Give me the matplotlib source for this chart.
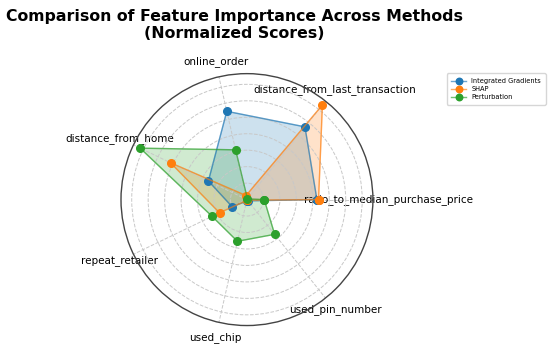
import numpy as np
import matplotlib
matplotlib.use("Agg")
import matplotlib.pyplot as plt
from matplotlib.colors import to_rgba

features = ["ratio_to_median_purchase_price", "distance_from_last_transaction",
            "online_order", "distance_from_home", "repeat_retailer",
            "used_chip", "used_pin_number"]
methods = ["Integrated Gradients", "SHAP", "Perturbation"]
ig_scores = [0.85, 1.13, 1.10, 0.52, 0.20, 0.02, 0.02]
shap_scores = [0.87, 1.47, 0.05, 1.03, 0.37, 0.01, 0.01]
pert_scores = [0.21, 0.01, 0.62, 1.44, 0.47, 0.52, 0.54]
colors = ["#1f77b4", "#ff7f0e", "#2ca02c"]

n = len(features)
angles = np.linspace(0, 2 * np.pi, n, endpoint=False).tolist()
angles_closed = angles + angles[:1]

fig = plt.figure(figsize=(5.5, 3.52), dpi=100)
ax = fig.add_axes([0.22, 0.075, 0.458, 0.716], polar=True)

for name, vals, c in zip(methods, [ig_scores, shap_scores, pert_scores], colors):
    v = vals + vals[:1]
    ax.plot(angles_closed, v, 'o-', color=to_rgba(c, 0.65), linewidth=1.0,
            markersize=5.5, markerfacecolor=c, markeredgecolor=c, label=name)
    ax.fill(angles_closed, v, color=c, alpha=0.22)

ax.set_xticks(angles)
ax.set_xticklabels(features, fontsize=7.5)
ax.tick_params(axis='x', pad=0.5)
ax.set_ylim(0, 1.53)
ax.set_yticks(np.arange(0.2, 1.41, 0.2))
ax.set_yticklabels([])
ax.grid(True, color='#c8c8c8', linestyle='--', linewidth=0.7)
ax.spines['polar'].set_color('#444444')
ax.spines['polar'].set_linewidth(1.0)

fig.text(234 / 550, 1 - 9 / 352,
         "Comparison of Feature Importance Across Methods\n(Normalized Scores)",
         ha='center', va='top', fontsize=11.3, fontweight='bold', linespacing=1.2)

fig.legend(loc='upper right', bbox_to_anchor=(549 / 550, 1 - 70 / 352),
           fontsize=4.8, frameon=True, markerscale=0.85, handlelength=2.2,
           borderpad=0.7, labelspacing=0.3)

fig.savefig("out.png", dpi=100)
